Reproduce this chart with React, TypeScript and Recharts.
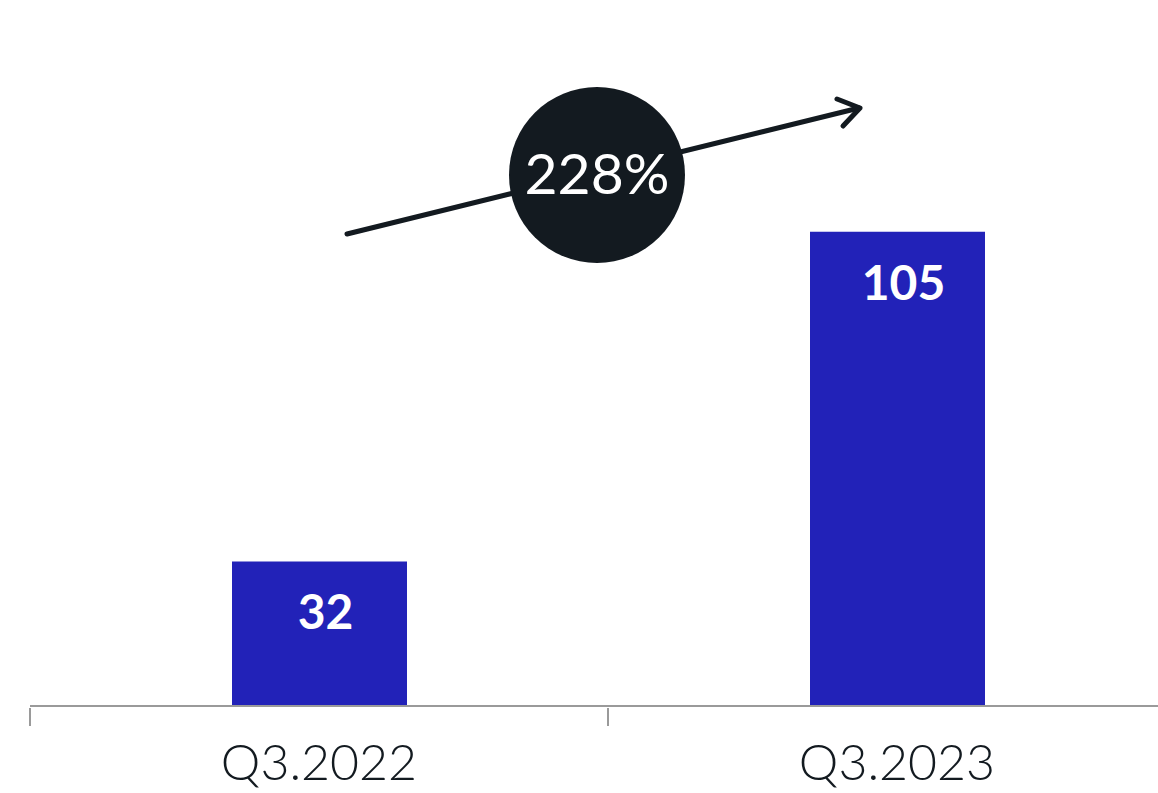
import { BarChart, Bar, XAxis, YAxis, LabelList, Customized } from 'recharts'

const quarters = ['Q3.2022', 'Q3.2023']
const customers = [32, 105]

const data = quarters.map((q, i) => ({ quarter: q, value: customers[i] }))

const growth = Math.round((customers[1] / customers[0] - 1) * 100)

const BAR_COLOR = '#2222b8'
const INK = '#131a20'
const AXIS = '#9a9a9a'

const renderBarLabel = (props: any) => {
  const { x, y, width, value } = props
  return (
    <text
      x={Number(x) + Number(width) / 2 + 6}
      y={Number(y) + 68}
      textAnchor="middle"
      fill="#ffffff"
      fontSize={48}
      fontWeight={700}
      fontFamily="Lato, sans-serif"
    >
      {value}
    </text>
  )
}

// category label centred, tick mark drawn on the left edge of each band
const QuarterTick = (props: any) => {
  const { x, y, payload } = props
  const half = payload && payload.offset ? payload.offset : 289
  return (
    <g>
      <line x1={x - half} y1={y - 18} x2={x - half} y2={y} stroke={AXIS} strokeWidth={2} />
      <text
        x={x}
        y={y + 54}
        textAnchor="middle"
        fill={INK}
        fontSize={50}
        fontWeight={300}
        fontFamily="Lato, sans-serif"
      >
        {payload.value}
      </text>
    </g>
  )
}

// growth annotation: arrow with the badge on top
const GrowthArrow = () => (
  <g>
    <line x1={347} y1={234} x2={859} y2={108} stroke={INK} strokeWidth={5} strokeLinecap="round" />
    <polyline
      points="837,99 860,108 843,126"
      fill="none"
      stroke={INK}
      strokeWidth={5}
      strokeLinecap="round"
      strokeLinejoin="round"
    />
    <circle cx={597} cy={175} r={88} fill={INK} />
    <text
      x={597}
      y={194}
      textAnchor="middle"
      fill="#ffffff"
      fontSize={57}
      fontWeight={400}
      fontFamily="Lato, sans-serif"
    >
      {growth}%
    </text>
  </g>
)

export default function App() {
  return (
    <div
      style={{
        position: 'absolute',
        left: 0,
        top: 0,
        width: 1158,
        height: 793,
        overflow: 'hidden',
        background: '#ffffff',
      }}
    >
      <BarChart
        width={1216}
        height={793}
        data={data}
        margin={{ top: 164, right: 30, left: 30, bottom: 0 }}
      >
        <XAxis
          dataKey="quarter"
          height={87}
          axisLine={{ stroke: AXIS, strokeWidth: 2 }}
          tickLine={false}
          tickSize={18}
          interval={0}
          tick={<QuarterTick />}
        />
        <YAxis hide domain={[0, 120]} />
        <Bar dataKey="value" fill={BAR_COLOR} barSize={175} isAnimationActive={false}>
          <LabelList dataKey="value" content={renderBarLabel} />
        </Bar>
        <Customized component={GrowthArrow} />
      </BarChart>
    </div>
  )
}
